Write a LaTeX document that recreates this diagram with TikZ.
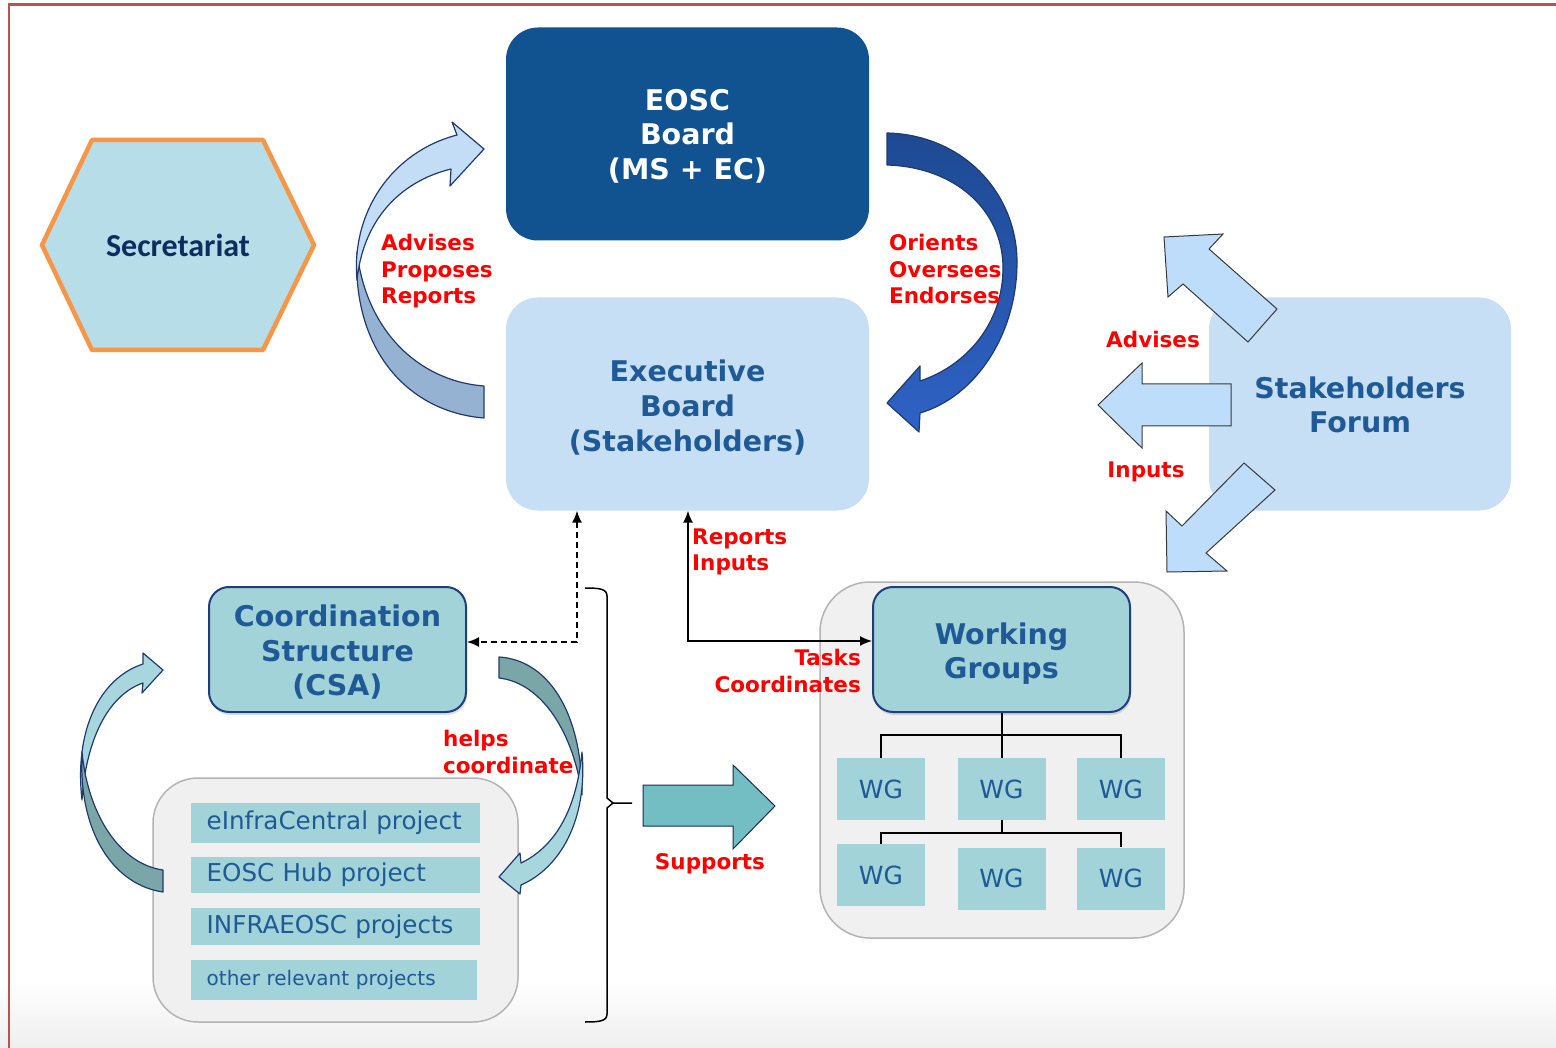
\documentclass[tikz,border=0pt]{standalone}
\usepackage{fontspec}
\setmainfont{DejaVu Sans}
\newfontfamily\carlitofont{Carlito}
\usetikzlibrary{arrows.meta,shadows}

\definecolor{frame}{HTML}{C0504D}
\definecolor{eoscblue}{HTML}{115390}
\definecolor{execfill}{HTML}{C6DFF5}
\definecolor{textblue}{HTML}{1F5A96}
\definecolor{tealfill}{HTML}{A1D3D8}
\definecolor{boxedge}{HTML}{1F3F7F}
\definecolor{contfill}{HTML}{F0F0F0}
\definecolor{contedge}{HTML}{B4B4B4}
\definecolor{sharrow}{HTML}{BDDDFA}
\definecolor{darkedge}{HTML}{3A3A3A}
\definecolor{suparrow}{HTML}{72BEC3}
\definecolor{curveedge}{HTML}{1F3B6E}
\definecolor{bluelight}{HTML}{C3DDF6}
\definecolor{bluedark}{HTML}{95B2D2}
\definecolor{teallight}{HTML}{A7D6DD}
\definecolor{tealdark}{HTML}{7BA6A8}
\definecolor{orientstop}{HTML}{1E4A92}
\definecolor{orientsbot}{HTML}{2F62C6}
\definecolor{hexfill}{HTML}{B7DDE8}
\definecolor{hexedge}{HTML}{F79646}
\definecolor{secnavy}{HTML}{0C2D5E}
\definecolor{labelred}{HTML}{FF0000}
\definecolor{bggray}{HTML}{EFEFEF}

\tikzset{
  bigbox/.style={rounded corners=32pt, minimum width=363pt, minimum height=213pt, inner sep=0pt},
  boxtext/.style={align=center, inner sep=0pt, font=\bfseries\fontsize{28.5}{34.5}\selectfont},
  tealbox/.style={rounded corners=20pt, draw=boxedge, line width=2pt, fill=tealfill, minimum width=257pt, minimum height=125pt, inner sep=0pt, drop shadow={shadow xshift=1pt, shadow yshift=-3pt, opacity=0.25}},
  container/.style={draw=contedge, fill=contfill, line width=1.5pt, inner sep=0pt},
  wgbox/.style={fill=tealfill, minimum width=88pt, minimum height=62pt, inner sep=0pt, text=textblue, font=\fontsize{25}{30}\selectfont},
  projbar/.style={fill=tealfill, anchor=west, inner xsep=15.5pt, inner ysep=0pt, text width=258pt, align=left, text=textblue, font=\fontsize{24.6}{28}\selectfont},
  redlbl/.style={text=labelred, font=\bfseries\fontsize{21.5}{26.5}\selectfont, inner sep=0pt},
  conn/.style={line width=1.5pt, {Latex[length=12pt,width=10pt]}-{Latex[length=12pt,width=10pt]}},
  curvedge/.style={draw=curveedge, line width=1.2pt, line join=round},
  blockarrow/.style={draw=darkedge, line width=1pt, line join=miter},
  treeline/.style={line width=2pt, black},
}

\begin{document}
\begin{tikzpicture}[x=1pt,y=-1pt]
\useasboundingbox (0,0) rectangle (1556,1048);
\fill[white] (0,0) rectangle (1556,1048);
\fill[top color=white, bottom color=bggray] (0,980) rectangle (1556,1048);
\draw[frame, line width=2.5pt] (9,1048) -- (9,4.5) -- (1556,4.5);

% Secretariat hexagon
\draw[fill=hexfill, draw=hexedge, line width=4.5pt, line join=round] (92,140) -- (263,140) -- (314,245) -- (263,350) -- (92,350) -- (42,245) -- cycle;
\node[font=\carlitofont\bfseries\fontsize{32}{36}\selectfont, text=secnavy] (sec) at (178,245) {Secretariat};

% Top boxes
\node[bigbox, fill=eoscblue, label={[boxtext, text=white, yshift=-2pt]center:{EOSC\\Board\\(MS + EC)}}] (eosc) at (687.5,134) {};
\node[bigbox, fill=execfill, label={[boxtext, text=textblue, yshift=-3.5pt, font=\bfseries\fontsize{28.5}{35}\selectfont]center:{Executive\\Board\\(Stakeholders)}}] (exec) at (687.5,404) {};
\node[bigbox, fill=execfill, minimum width=302pt, label={[boxtext, text=textblue, yshift=-1pt]center:{Stakeholders\\Forum}}] (sf) at (1360,404) {};

% Big left curved arrow
\filldraw[curvedge, fill=bluedark] (357,252) .. controls (352,350) and (408,412) .. (484,418) -- (484,386) .. controls (418,381) and (366,330) .. (357,252) -- cycle;
\filldraw[curvedge, fill=bluelight] (357,280) .. controls (351,212) and (392,152) .. (457,135) -- (452,122) -- (484,149) -- (450,186) -- (451,169) .. controls (398,182) and (363,222) .. (357,280) -- cycle;

% Big right curved arrow
\shadedraw[curvedge, top color=orientstop, bottom color=orientsbot] (887,133) .. controls (965,135) and (1017,195) .. (1017,262) .. controls (1017,335) and (975,397) .. (920,413) -- (919,432) -- (887,403) -- (920,366) -- (920,381) .. controls (968,365) and (1003,322) .. (1003,268) .. controls (1003,210) and (955,167) .. (887,165) -- cycle;

% Stakeholder arrows
\filldraw[blockarrow, fill=sharrow] (1164,237) -- (1223,234) -- (1209,249) -- (1277,309) -- (1248,342) -- (1183,284) -- (1168,297) -- cycle;
\filldraw[blockarrow, fill=sharrow] (1231,384) -- (1142,384) -- (1142,363) -- (1098,405) -- (1142,448) -- (1142,426) -- (1231,426) -- cycle;
\filldraw[blockarrow, fill=sharrow] (1167,572) -- (1227,571) -- (1206,553) -- (1275,490) -- (1244,463) -- (1182,526) -- (1166,511) -- cycle;

% Containers
\node[container, rounded corners=50pt, minimum width=364pt, minimum height=356pt] (wgcont) at (1002,760) {};
\node[container, rounded corners=45pt, minimum width=365pt, minimum height=244pt] (projcont) at (335.5,900) {};

% CSA and WG title
\node[tealbox, label={[boxtext, text=textblue, yshift=-3pt]center:{Coordination\\Structure\\(CSA)}}] (csa) at (337.5,649.5) {};
\node[tealbox, label={[boxtext, text=textblue, yshift=-4pt]center:{Working\\Groups}}] (wgt) at (1001.5,649.5) {};

% WG boxes
\node[wgbox] (wg1) at (881,789) {WG};
\node[wgbox] (wg2) at (1001.5,789) {WG};
\node[wgbox] (wg3) at (1121,789) {WG};
\node[wgbox] (wg4) at (881,875) {WG};
\node[wgbox] (wg5) at (1001.5,878.5) {WG};
\node[wgbox] (wg6) at (1121,878.5) {WG};

\coordinate (bar1) at (1001.5,735);
\coordinate (bar2) at (1001.5,833);
\draw[treeline] (wgt.south) -- (wg2.north);
\draw[treeline] (wg1.north) -- (wg1.north |- bar1) -- (wg3.north |- bar1) -- (wg3.north);
\draw[treeline] (wg2.south) -- (bar2);
\draw[treeline] (wg4.north) -- (wg4.north |- bar2) -- (wg6.north |- bar2) -- (wg6.north);

% Project bars
\node[projbar, minimum height=40pt] (p1) at (191,823) {\mbox{eInfraCentral project}};
\node[projbar, minimum height=36pt] (p2) at (191,875) {EOSC Hub project};
\node[projbar, minimum height=37pt] (p3) at (191,926.5) {INFRAEOSC projects};
\node[projbar, minimum height=40pt, text width=255pt, font=\fontsize{20}{24}\selectfont] (p4) at (191,980) {other relevant projects};

% Teal curved arrows
\filldraw[curvedge, fill=teallight] (82,800) .. controls (74,730) and (100,678) .. (143,664) -- (143,653) -- (163,670) -- (142,693) -- (143,683) .. controls (108,695) and (86,740) .. (82,800) -- cycle;
\filldraw[curvedge, fill=tealdark] (82,752) .. controls (78,835) and (115,885) .. (163,892) -- (163,870) .. controls (120,864) and (88,815) .. (82,752) -- cycle;
\filldraw[curvedge, fill=tealdark] (499,657) .. controls (548,660) and (582,712) .. (582,795) .. controls (574,735) and (543,683) .. (499,678) -- cycle;
\filldraw[curvedge, fill=teallight] (582,752) .. controls (588,820) and (560,868) .. (521,885) -- (520,894) -- (499,877) -- (520,853) -- (521,863) .. controls (552,848) and (576,815) .. (582,752) -- cycle;

% Connectors
\coordinate (dcorner) at (577,642);
\draw[conn, dashed, dash pattern=on 6pt off 4pt] (exec.south -| dcorner) -- (dcorner) -- (dcorner -| csa.east);
\coordinate (scorner) at (688,641);
\draw[conn] (exec.south -| scorner) -- (scorner) -- (scorner -| wgt.west);

% Bracket
\draw[line width=1.5pt, line join=round] (585,588) .. controls (600,588) and (607,589) .. (607,596) -- (607,798) -- (613,803) -- (632,803);
\draw[line width=1.5pt, line join=round] (613,803) -- (607,808) -- (607,1014) .. controls (607,1021) and (600,1022) .. (585,1022);

% Supports arrow
\filldraw[blockarrow, draw=boxedge!70!black, fill=suparrow] (643,785) -- (733,785) -- (733,765) -- (775,806) -- (733,849) -- (733,826) -- (643,826) -- cycle;

% Labels
\node[redlbl, align=left, anchor=west] (lAdv) at (381,271.5) {Advises\\Proposes\\Reports};
\node[redlbl, align=left, anchor=west] (lOri) at (889,269) {Orients\\Oversees\\Endorses};
\node[redlbl] (lSadv) at (1153,339) {Advises};
\node[redlbl] (lSinp) at (1146,472) {Inputs};
\node[redlbl, align=left, anchor=west] (lRep) at (692,552) {Reports\\Inputs};
\node[redlbl, align=right, anchor=east] (lTask) at (861,671) {Tasks\\Coordinates};
\node[redlbl, align=left, anchor=west] (lHelp) at (443,752) {helps\\coordinate};
\node[redlbl] (lSup) at (710,864) {Supports};
\end{tikzpicture}
\end{document}
